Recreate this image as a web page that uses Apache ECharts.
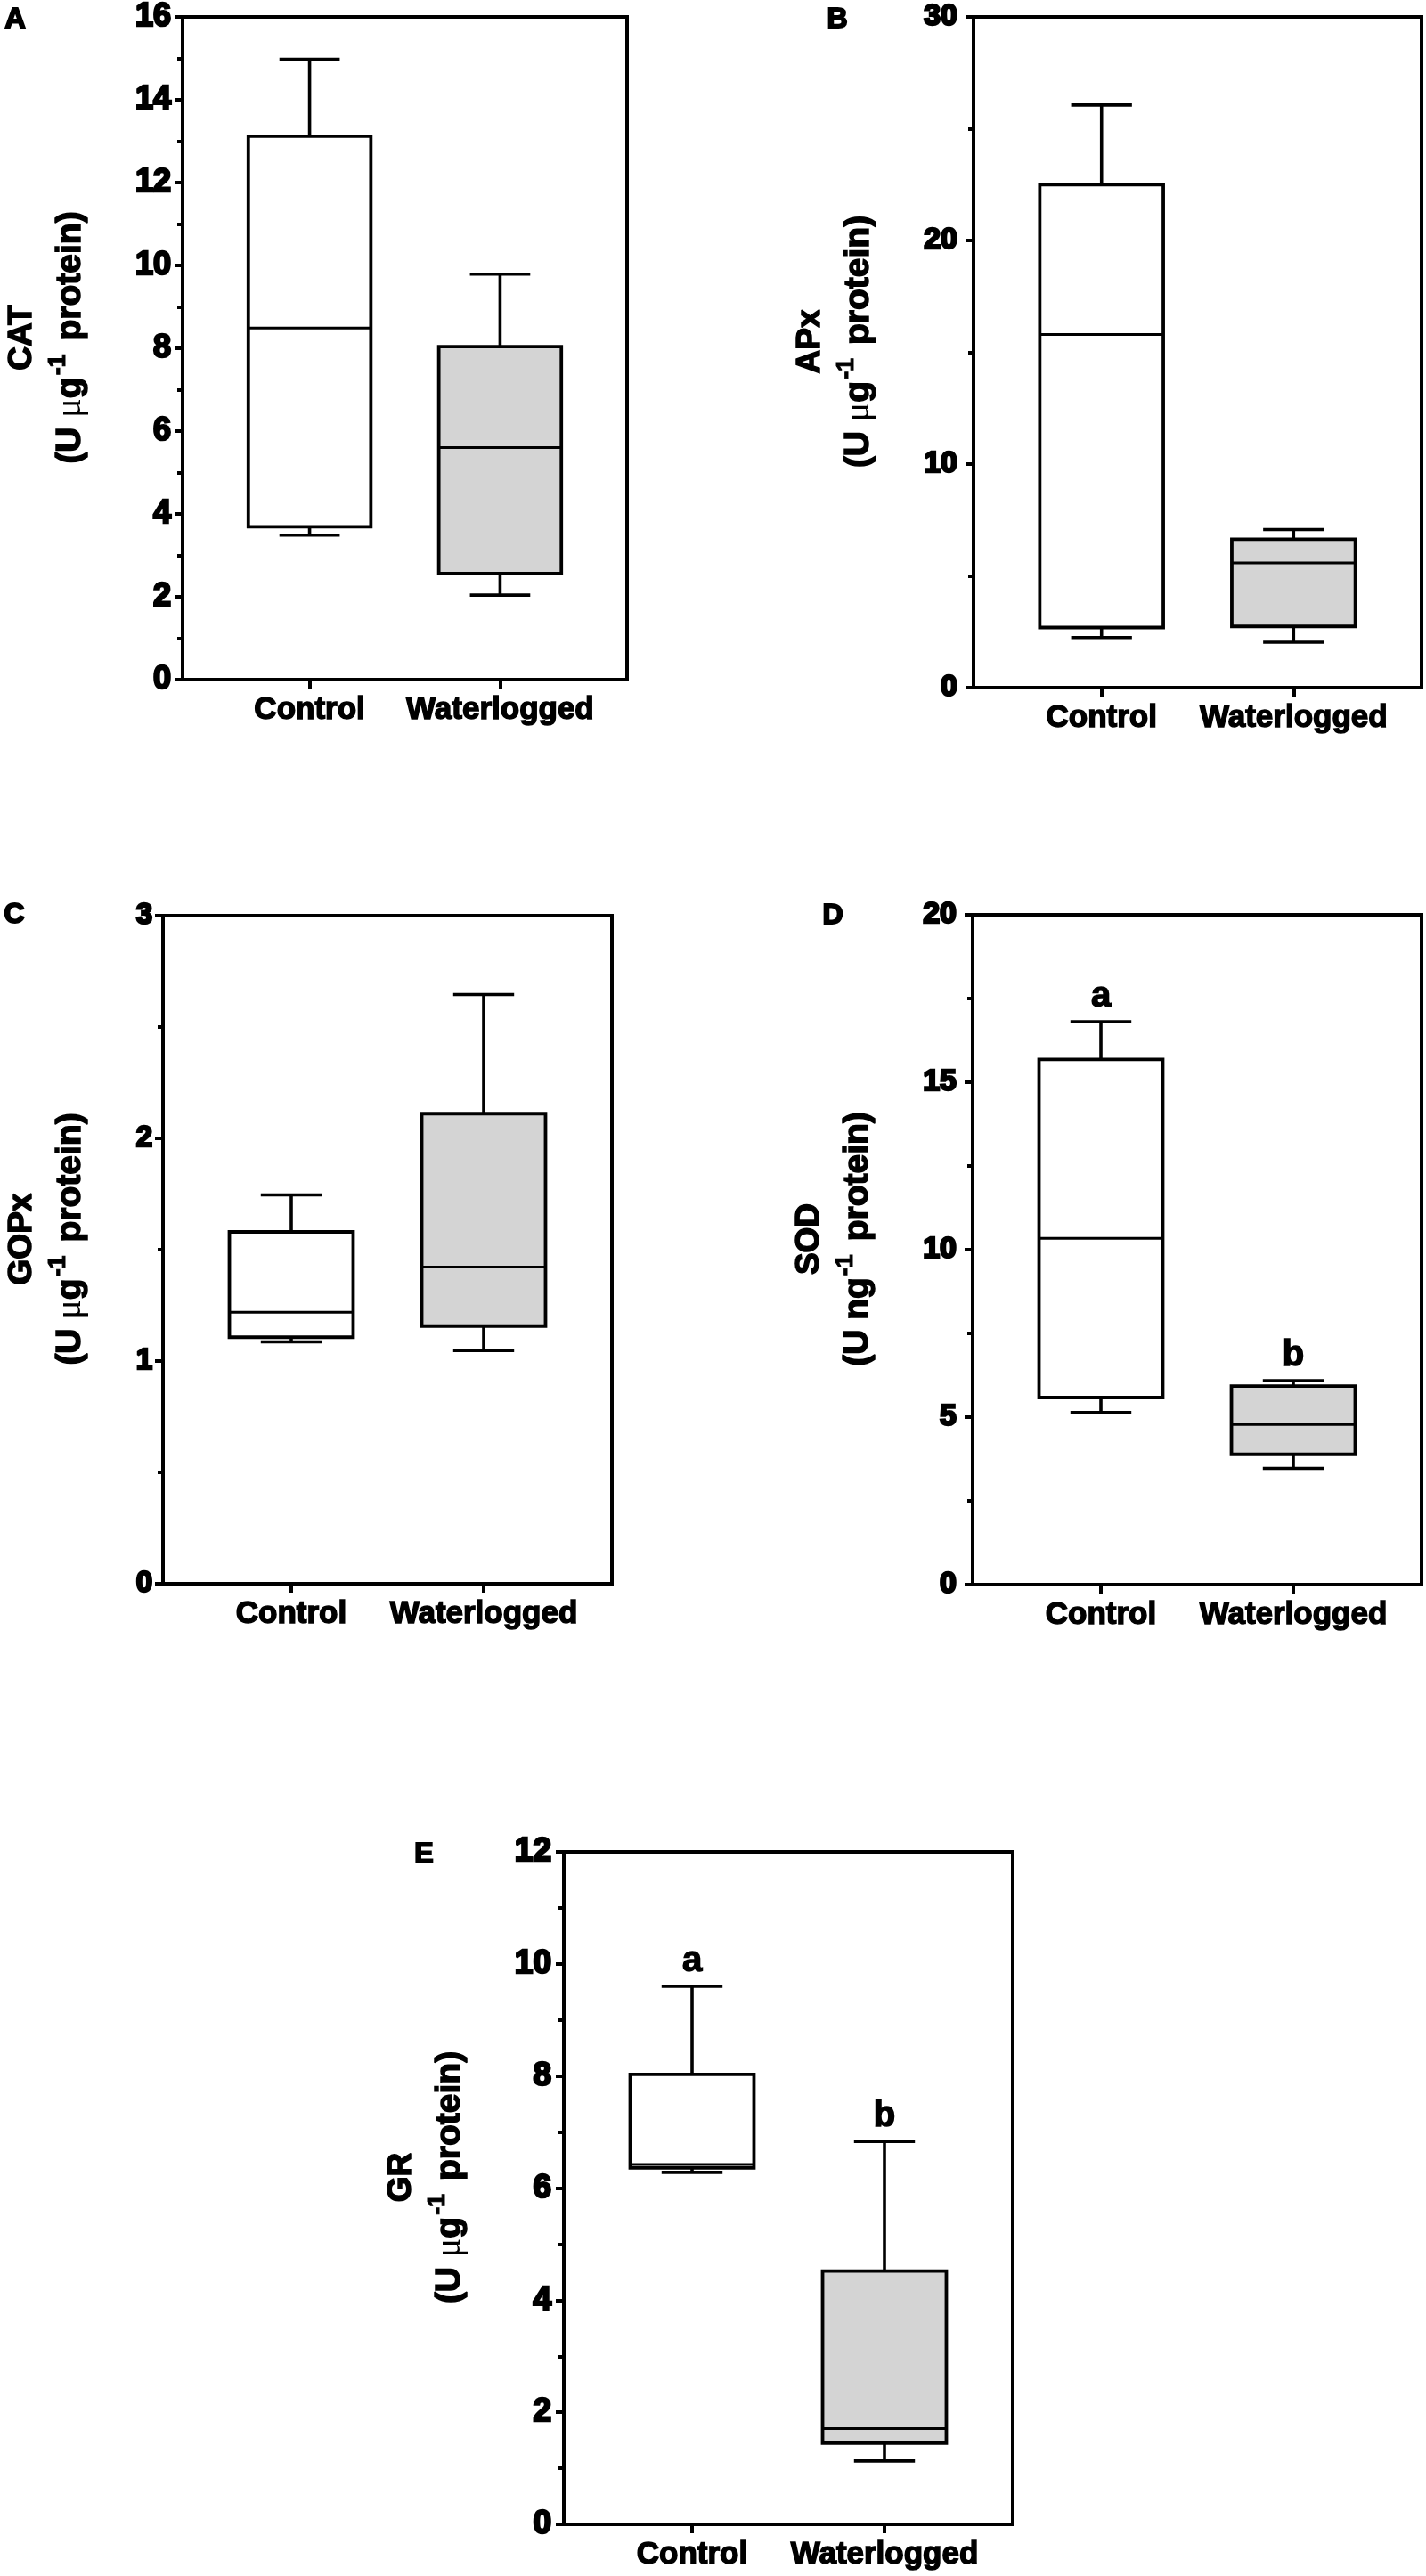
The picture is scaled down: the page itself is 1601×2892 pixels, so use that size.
<!DOCTYPE html>
<html>
<head>
<meta charset="utf-8">
<script src="https://cdn.jsdelivr.net/npm/echarts@6/dist/echarts.min.js"></script>
<style>
html,body{margin:0;padding:0;background:#ffffff;}
#chart{width:1601px;height:2892px;}
</style>
</head>
<body>
<div id="chart"></div>
<script>
// ---------------- DATA ----------------
const categories = ['Control', 'Waterlogged'];

// each box: [min, Q1, median, Q3, max]
const catControl      = [3.49, 3.69, 8.49, 13.12, 14.98];
const catWaterlogged  = [2.04, 2.56, 5.60, 8.04, 9.79];

const apxControl      = [2.24, 2.69, 15.80, 22.50, 26.06];
const apxWaterlogged  = [2.03, 2.74, 5.58, 6.64, 7.07];

const gopxControl     = [1.086, 1.107, 1.219, 1.580, 1.746];
const gopxWaterlogged = [1.047, 1.157, 1.422, 2.111, 2.646];

const sodControl      = [5.14, 5.585, 10.34, 15.68, 16.81];
const sodWaterlogged  = [3.47, 3.89, 4.78, 5.93, 6.09];

const grControl       = [6.28, 6.36, 6.42, 8.03, 9.60];
const grWaterlogged   = [1.13, 1.45, 1.71, 4.52, 6.83];

// significance letters
const sodLetters = ['a', 'b'];
const grLetters  = ['a', 'b'];

// y-axis tick labels
const catTicks  = [0, 2, 4, 6, 8, 10, 12, 14, 16];
const apxTicks  = [0, 10, 20, 30];
const gopxTicks = [0, 1, 2, 3];
const sodTicks  = [0, 5, 10, 15, 20];
const grTicks   = [0, 2, 4, 6, 8, 10, 12];

// ---------------- STYLE / LAYOUT ----------------
const FONT = '"Liberation Sans", Arial, Helvetica, sans-serif';
const FILLS = ['#ffffff', '#d4d4d4'];
const SLOTS = 8;            // category slots across the frame
const SLOT_OF = [2, 5];     // slot used by each category
const BOX_BANDS = 1.93;     // box width in slot steps
const CAP_BANDS = 0.95;     // whisker cap width in slot steps

const panels = [
  {letter: 'A', lx: 17,  ly: 22,   frame: [205, 19, 704, 763],    ticks: catTicks,  data: [catControl, catWaterlogged],   title: 'CAT',  mu: true,  tickFont: 36, labelMargin: 13, nameGap: 99,  sig: null},
  {letter: 'B', lx: 940, ly: 22,   frame: [1093, 19, 1596, 772],  ticks: apxTicks,  data: [apxControl, apxWaterlogged],   title: 'APx',  mu: true,  tickFont: 34, labelMargin: 18, nameGap: 102, sig: null},
  {letter: 'C', lx: 16,  ly: 1027, frame: [183, 1028, 687, 1778], ticks: gopxTicks, data: [gopxControl, gopxWaterlogged], title: 'GOPx', mu: true,  tickFont: 33, labelMargin: 12, nameGap: 77,  sig: null},
  {letter: 'D', lx: 935, ly: 1028, frame: [1092, 1027, 1596, 1779],ticks: sodTicks,  data: [sodControl, sodWaterlogged],   title: 'SOD',  mu: false, tickFont: 34, labelMargin: 18, nameGap: 102, sig: sodLetters},
  {letter: 'E', lx: 476, ly: 2082, frame: [633, 2079, 1137, 2834],ticks: grTicks,   data: [grControl, grWaterlogged],     title: 'GR',   mu: true,  tickFont: 37, labelMargin: 14, nameGap: 101, sig: grLetters}
];

function makeRender(letters) {
  return function (params, api) {
    const x = api.value(0);
    const v = [api.value(1), api.value(2), api.value(3), api.value(4), api.value(5)];
    const band = api.size([1, 0])[0];
    const boxW = band * BOX_BANDS;
    const capW = band * CAP_BANDS;
    const cx = api.coord([x, v[2]])[0];
    const y = (val) => api.coord([x, val])[1];
    const yMin = y(v[0]), yQ1 = y(v[1]), yMed = y(v[2]), yQ3 = y(v[3]), yMax = y(v[4]);
    const ls = {stroke: '#000', lineWidth: 3.6};
    const children = [
      {type: 'line', shape: {x1: cx, y1: yQ3, x2: cx, y2: yMax}, style: ls},
      {type: 'line', shape: {x1: cx - capW / 2, y1: yMax, x2: cx + capW / 2, y2: yMax}, style: ls},
      {type: 'line', shape: {x1: cx, y1: yQ1, x2: cx, y2: yMin}, style: ls},
      {type: 'line', shape: {x1: cx - capW / 2, y1: yMin, x2: cx + capW / 2, y2: yMin}, style: ls},
      {type: 'rect', shape: {x: cx - boxW / 2, y: yQ3, width: boxW, height: yQ1 - yQ3},
        style: {fill: FILLS[params.dataIndex], stroke: '#000', lineWidth: 3.8}},
      {type: 'line', shape: {x1: cx - boxW / 2, y1: yMed, x2: cx + boxW / 2, y2: yMed}, style: {stroke: '#000', lineWidth: 3}}
    ];
    if (letters) {
      children.push({type: 'text', x: cx, y: yMax - 8,
        style: {text: letters[params.dataIndex], fontSize: 40, fontWeight: 'bold', fontFamily: FONT,
          fill: '#000', stroke: '#000', lineWidth: 1.5, align: 'center', verticalAlign: 'bottom'}});
    }
    return {type: 'group', children: children};
  };
}

const grids = [], xAxes = [], yAxes = [], series = [], graphics = [];

panels.forEach(function (p, i) {
  const [l, t, r, b] = p.frame;
  grids.push({left: l, top: t, width: r - l, height: b - t, show: true,
    borderColor: '#000', borderWidth: 4, backgroundColor: 'rgba(0,0,0,0)',
    containLabel: false, outerBoundsMode: 'none'});

  const slotNames = [];
  for (let k = 0; k < SLOTS; k++) slotNames.push('slot' + k);
  SLOT_OF.forEach(function (s, c) { slotNames[s] = categories[c]; });
  const shown = function (idx) { return SLOT_OF.indexOf(idx) >= 0; };

  xAxes.push({gridIndex: i, type: 'category', boundaryGap: false, data: slotNames,
    axisLine: {show: false},
    axisTick: {show: true, interval: shown, length: 10, lineStyle: {color: '#000', width: 4}},
    axisLabel: {show: true, interval: shown, margin: 17, color: '#000', fontSize: 35, fontWeight: 'bold', fontFamily: FONT,
      textBorderColor: '#000', textBorderWidth: 1.5},
    splitLine: {show: false}});

  const unit = p.mu ? '{u|(U }{m|μ}{u|g}' : '{u|(U ng}';
  const name = '{t|' + p.title + '}\n' + unit + '{s|-1}{u| protein)}';
  yAxes.push({gridIndex: i, type: 'value', min: p.ticks[0], max: p.ticks[p.ticks.length - 1],
    interval: p.ticks[1] - p.ticks[0],
    axisLine: {show: false}, splitLine: {show: false},
    axisTick: {show: true, length: 9, lineStyle: {color: '#000', width: 4}},
    minorTick: {show: true, splitNumber: 2, length: 6, lineStyle: {color: '#000', width: 4}},
    axisLabel: {color: '#000', fontSize: p.tickFont, fontWeight: 'bold', fontFamily: FONT, margin: p.labelMargin,
      textBorderColor: '#000', textBorderWidth: 2.5},
    name: name, nameLocation: 'middle', nameRotate: 90, nameGap: p.nameGap,
    nameTextStyle: {padding: [0, 0, 0, 24], rich: {
      t: {fontSize: 37, fontWeight: 'bold', fontFamily: FONT, color: '#000', lineHeight: 54, textBorderColor: '#000', textBorderWidth: 1.5},
      u: {fontSize: 39, fontWeight: 'bold', fontFamily: FONT, color: '#000', lineHeight: 54, textBorderColor: '#000', textBorderWidth: 1.5},
      m: {fontSize: 40, fontWeight: 'normal', fontFamily: '"Liberation Serif", "DejaVu Serif", serif', color: '#000', lineHeight: 54},
      s: {fontSize: 27, fontWeight: 'bold', fontFamily: FONT, color: '#000', padding: [0, 4, 26, 2], textBorderColor: '#000', textBorderWidth: 1}
    }}});

  series.push({type: 'custom', xAxisIndex: i, yAxisIndex: i, clip: false, silent: true, z: 10,
    renderItem: makeRender(p.sig),
    encode: {x: 0, y: [1, 2, 3, 4, 5]},
    data: p.data.map(function (v, c) { return [SLOT_OF[c]].concat(v); })});

  graphics.push({type: 'text', x: p.lx, y: p.ly, silent: true,
    style: {text: p.letter, fontSize: 32, fontWeight: 'bold', fontFamily: FONT, fill: '#000',
      stroke: '#000', lineWidth: 2, align: 'center', verticalAlign: 'middle'}});
});

const chart = echarts.init(document.getElementById('chart'), null, {renderer: 'canvas'});
chart.setOption({
  animation: false,
  backgroundColor: '#ffffff',
  grid: grids,
  xAxis: xAxes,
  yAxis: yAxes,
  series: series,
  graphic: graphics
});
</script>
</body>
</html>
